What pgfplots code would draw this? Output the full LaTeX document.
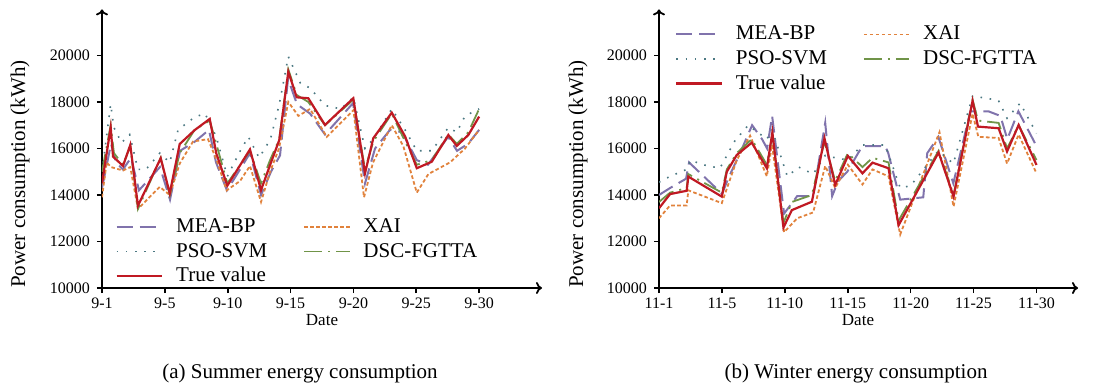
\documentclass[border=0pt]{standalone}
\usepackage{fontspec}
\setmainfont{Liberation Serif}
\usepackage{pgfplots}
\pgfplotsset{compat=1.18}
\usetikzlibrary{arrows.meta}

\definecolor{cMEA}{RGB}{128,115,172}
\definecolor{cXAI}{RGB}{225,130,60}
\definecolor{cPSO}{RGB}{75,120,130}
\definecolor{cDSC}{RGB}{112,148,72}
\definecolor{cTrue}{RGB}{192,25,35}

\pgfplotsset{
  myaxis/.style={
    scale only axis, height=139.3pt,
    xmin=0, ymin=10000, ymax=21980,
    axis lines=left,
    axis line style={line width=0.9pt, -{To[length=3pt,width=6pt]}},
    xtick={0,5,10,15,20,25,30},
    ytick={10000,12000,14000,16000,18000,20000},
    scaled y ticks=false,
    tick align=outside, major tick length=2.5pt,
    tick style={black, line width=0.8pt},
    every tick label/.append style={font=\fontsize{8}{9}\selectfont},
    xticklabel style={yshift=1pt},
    /pgf/number format/assume math mode=true,
    /pgf/number format/1000 sep={},
    legend columns=2,
    legend cell align=left,
    legend style={draw=none, fill=none, font=\fontsize{10.5}{12}\selectfont,
      inner sep=0pt, row sep=-0.3pt,
      /tikz/every odd column/.append style={column sep=4.5pt},
      /tikz/every even column/.append style={column sep=16pt}},
    legend image code/.code={\draw[#1] (0pt,0pt) -- (22.7pt,0pt);},
  },
  sMEA/.style={color=cMEA, line width=1pt, dash pattern=on 8pt off 3.5pt},
  sXAI/.style={color=cXAI, line width=0.9pt, dash pattern=on 1.8pt off 1.2pt},
  sPSO/.style={color=cPSO, line width=0.8pt, dash pattern=on 0.8pt off 3.8pt},
  sDSC/.style={color=cDSC, line width=0.9pt, dash pattern=on 9pt off 3pt on 1pt off 3pt},
  sTrue/.style={color=cTrue, line width=1.1pt},
}

\begin{document}
\begin{tikzpicture}
\useasboundingbox (0,0) rectangle (548pt,193.5pt);

% ---------- (a) Summer ----------
\begin{axis}[myaxis, at={(51pt,49.5pt)}, anchor=south west,
  width=220pt, xmax=35,
  xticklabels={9-1,9-5,9-10,9-15,9-20,9-25,9-30},
  legend style={at={(0.03,0.264)}, anchor=north west}]
\addplot[sMEA] coordinates {(0,14300) (0.72,16200) (1.11,15400) (1.67,15100) (2.31,15600) (2.94,14200) (4.61,15200) (5.41,13800) (6.21,15900) (7.40,16300) (8.51,16800) (9.07,15400) (9.94,14200) (10.98,15100) (11.77,15800) (12.65,14000) (13.44,15000) (14.16,15700) (14.80,19000) (15.51,17900) (16.55,17500) (17.74,16600) (19.97,17950) (20.92,14500) (21.72,16000) (22.91,16800) (23.87,16700) (25.04,15500) (25.93,15300) (27.53,16500) (28.24,15900) (29.12,16200) (30,16800)};
\addlegendentry{MEA-BP}
\addplot[sXAI] coordinates {(0,13900) (0.37,15400) (0.72,15200) (1.67,15050) (2.25,15200) (2.86,13400) (4.59,14350) (5.39,14000) (6.18,15350) (7.24,16300) (8.43,16400) (9.12,15500) (9.92,14200) (10.98,14600) (11.77,15250) (12.65,13700) (13.37,15000) (14.08,16000) (14.82,18000) (15.62,17400) (16.55,17700) (17.88,16500) (20.0,17650) (20.84,13900) (21.56,15400) (23.05,17000) (23.97,16100) (25.04,14100) (25.96,14900) (27.68,15400) (28.88,16000) (30,16800)};
\addlegendentry{XAI}
\addplot[sPSO] coordinates {(0,15000) (0.69,17900) (0.95,16900) (1.55,16250) (2.2,16600) (2.86,15100) (3.5,15100) (4.6,15800) (5.39,15400) (6.05,16800) (7.37,17350) (8.2,17500) (9.09,16500) (9.97,14800) (11.0,15900) (11.64,16500) (12.5,15600) (13.4,16400) (14.1,17900) (14.82,19950) (15.79,18800) (16.55,18600) (17.74,17850) (19.0,17700) (19.99,18200) (20.92,16000) (21.58,16400) (23.05,17700) (24.11,16800) (25.04,15900) (26.23,15900) (27.55,16900) (28.22,16700) (28.88,17400) (30,17700)};
\addlegendentry{PSO-SVM}
\addplot[sDSC] coordinates {(0,15000) (0.69,17000) (0.95,15800) (1.67,15300) (2.25,16100) (2.86,13400) (4.67,15600) (5.39,14000) (6.18,15800) (7.37,16800) (8.57,17200) (9.09,16200) (9.97,14500) (11.77,15900) (12.65,14500) (13.37,15500) (14.10,16400) (14.82,19400) (15.49,18300) (16.41,18000) (17.74,17000) (19.99,18100) (20.92,15100) (21.58,16300) (23.05,17500) (24.11,16300) (25.04,15300) (26.23,15500) (27.55,16600) (28.22,16200) (29.14,16700) (30,17700)};
\addlegendentry{DSC-FGTTA}
\addplot[sTrue] coordinates {(0,14500) (0.69,16900) (0.88,15650) (1.67,15250) (2.25,16150) (2.86,13540) (4.67,15580) (5.39,14070) (6.18,16190) (7.37,16790) (8.57,17270) (9.09,15790) (9.97,14400) (11.77,15960) (12.65,14210) (13.37,15290) (14.10,16360) (14.82,19300) (15.49,18200) (16.41,18160) (17.74,17010) (19.99,18160) (20.92,14930) (21.58,16440) (23.05,17540) (24.11,16520) (25.04,15150) (26.23,15430) (27.55,16580) (28.22,16110) (29.14,16580) (30,17370)};
\addlegendentry{True value}
\end{axis}

% ---------- (b) Winter ----------
\begin{axis}[myaxis, at={(329.5pt,49.5pt)}, anchor=south west,
  width=209.5pt, xmax=33.3,
  xticklabels={11-1,11-5,11-10,11-15,11-20,11-25,11-30},
  legend style={at={(0.038,0.956)}, anchor=north west}]
\addplot[sMEA] coordinates {(0,14000) (0.88,14300) (2.15,14700) (2.39,15400) (5.01,14050) (5.49,14700) (6.44,15800) (7.40,17000) (8.19,16400) (8.59,16000) (8.99,17400) (9.94,13200) (10.98,13950) (12.25,13950) (13.21,17100) (13.76,13950) (14.24,14600) (14.96,15000) (16.15,16100) (17.98,16100) (18.22,15800) (19.17,13800) (21.0,13900) (21.32,15800) (22.2,16500) (23.39,14500) (24.74,17600) (26.17,17600) (27.13,17400) (27.68,16400) (28.56,17600) (30,16100)};
\addlegendentry{MEA-BP}
\addplot[sXAI] coordinates {(0,13000) (0.88,13550) (2.20,13550) (2.33,14200) (4.99,13650) (6.18,15500) (7.24,16550) (8.57,14800) (8.98,16150) (9.94,12400) (10.98,13000) (12.25,13250) (13.21,15250) (14.0,14300) (15.01,15300) (16.17,14450) (16.97,15100) (18.24,14800) (19.17,12300) (21.0,14900) (22.29,16700) (23.41,13500) (24.92,17500) (25.38,16500) (26.99,16450) (27.66,15350) (28.58,16600) (30,14930)};
\addlegendentry{XAI}
\addplot[sPSO] coordinates {(0,14550) (0.88,14800) (2.2,15100) (2.5,15500) (3.5,15300) (4.84,15150) (6.05,16350) (7.1,17000) (8.57,16400) (8.99,16800) (10.2,14800) (11.1,15200) (12.25,14900) (13.21,15700) (14.0,15600) (15.01,15500) (16.15,16150) (17.98,16150) (19.17,14300) (20.0,14400) (22.2,15900) (23.39,15350) (24.92,18250) (26.17,18150) (26.99,18050) (27.66,17300) (28.7,17950) (30,16650)};
\addlegendentry{PSO-SVM}
\addplot[sDSC] coordinates {(0,13700) (0.88,14100) (2.2,14300) (2.33,14900) (4.99,14100) (5.39,15100) (6.18,15800) (7.37,16400) (8.57,15300) (9.01,16600) (9.89,12800) (10.56,13700) (12.15,14000) (13.15,16300) (14.0,14600) (15.01,15800) (16.17,15200) (16.97,15600) (18.24,15400) (19.04,12900) (22.22,15900) (23.41,14000) (24.92,18100) (25.35,17200) (26.99,17100) (27.66,16000) (28.58,17000) (30,15500)};
\addlegendentry{DSC-FGTTA}
\addplot[sTrue] coordinates {(0,13430) (0.88,14040) (2.20,14180) (2.33,14790) (4.99,13930) (5.39,15000) (6.18,15720) (7.37,16250) (8.57,15150) (9.01,16690) (9.89,12600) (10.56,13350) (12.15,13710) (13.15,16440) (14.00,14430) (15.01,15680) (16.17,14930) (16.97,15390) (18.24,15150) (19.04,12700) (22.22,15830) (23.41,13930) (24.92,18050) (25.35,16940) (26.99,16870) (27.66,15870) (28.58,17010) (30,15290)};
\addlegendentry{True value}
\end{axis}

% ---------- labels ----------
\node[rotate=90, font=\fontsize{10.5}{12}\selectfont] at (10pt,106.5pt) {Power consumption (kWh)};
\node[rotate=90, font=\fontsize{10.5}{12}\selectfont] at (289pt,106.5pt) {Power consumption (kWh)};
\node[font=\fontsize{8.5}{10}\selectfont] at (161pt,33.5pt) {Date};
\node[font=\fontsize{8.5}{10}\selectfont] at (429pt,33.5pt) {Date};
\node[font=\fontsize{10.5}{12}\selectfont] at (150pt,7pt) {(a) Summer energy consumption};
\node[font=\fontsize{10.5}{12}\selectfont] at (428pt,7pt) {(b) Winter energy consumption};
\end{tikzpicture}
\end{document}
